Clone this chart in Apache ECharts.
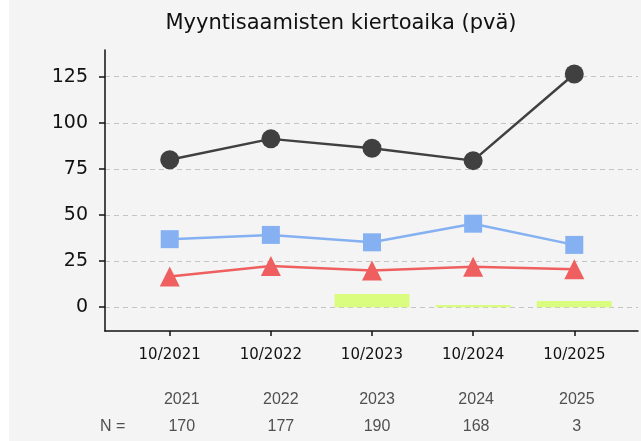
<!DOCTYPE html>
<html>
<head>
<meta charset="utf-8">
<script src="https://cdn.jsdelivr.net/npm/echarts@6/dist/echarts.min.js"></script>
<style>
  html, body { margin: 0; padding: 0; background: #fff; }
  #chart { position: absolute; left: 9px; top: 0; width: 632px; height: 441px; background: #f4f4f4; }
</style>
</head>
<body>
<div id="chart"></div>
<script>
// data
var periods = ['10/2021', '10/2022', '10/2023', '10/2024', '10/2025'];
var years = ['2021', '2022', '2023', '2024', '2025'];
var counts = [170, 177, 190, 168, 3];
var darkLine = [80, 91.3, 86.2, 79.5, 126.5];
var blueLine = [36.9, 39.2, 35.2, 45.3, 33.8];
var redLine = [16.6, 22.4, 19.9, 22.0, 20.6];
var greenBars = [null, null, 7.2, 1.2, 3.4];
var yTicks = [0, 25, 50, 75, 100, 125];

var xIdx = [0, 1, 2, 3, 4];
var tableShift = [12, 10, 5, 3, 2.5];

function pairs(arr) {
    var out = [];
    for (var i = 0; i < arr.length; i++) {
        if (arr[i] != null) out.push([i, arr[i]]);
    }
    return out;
}

var chart = echarts.init(document.getElementById('chart'));

var option = {
    backgroundColor: '#f4f4f4',
    animation: false,
    title: {
        text: 'Myyntisaamisten kiertoaika (pvä)',
        left: 327,
        top: 8,
        textAlign: 'center',
        textStyle: { fontFamily: 'DejaVu Sans', fontSize: 21, fontWeight: 'normal', color: '#111' }
    },
    grid: { left: 96, right: 3, top: 50, bottom: 110, containLabel: false },
    xAxis: {
        type: 'value',
        min: -0.64,
        max: 4.63,
        splitLine: { show: false },
        axisLine: { show: true, onZero: false, lineStyle: { color: '#111', width: 1.5 } },
        axisTick: { show: true, customValues: xIdx, length: 5, lineStyle: { color: '#111', width: 1.5 } },
        axisLabel: {
            customValues: xIdx,
            margin: 17,
            fontFamily: 'DejaVu Sans',
            fontSize: 15,
            color: '#111',
            formatter: function (v) { return periods[Math.round(v)]; }
        }
    },
    yAxis: {
        type: 'value',
        min: -12.9,
        max: 139.5,
        axisLine: { show: true, onZero: false, lineStyle: { color: '#111', width: 1.5 } },
        axisTick: { show: true, customValues: yTicks, length: 6, lineStyle: { color: '#111', width: 1.5 } },
        axisLabel: {
            customValues: yTicks,
            margin: 17,
            fontFamily: 'DejaVu Sans',
            fontSize: 19,
            color: '#111'
        },
        splitLine: { show: true, lineStyle: { color: '#c4c4c4', type: [5, 4], width: 1 } }
    },
    series: [
        {
            type: 'bar',
            data: pairs(greenBars),
            barWidth: 75,
            itemStyle: { color: '#dafd80' }
        },
        {
            type: 'line',
            data: pairs(redLine),
            symbol: 'triangle',
            symbolSize: 20,
            lineStyle: { color: '#ef5f5f', width: 2.5 },
            itemStyle: { color: '#ef5f5f' }
        },
        {
            type: 'line',
            data: pairs(blueLine),
            symbol: 'rect',
            symbolSize: 18,
            lineStyle: { color: '#85b1f2', width: 2.5 },
            itemStyle: { color: '#85b1f2' }
        },
        {
            type: 'line',
            data: pairs(darkLine),
            symbol: 'circle',
            symbolSize: 19,
            lineStyle: { color: '#404040', width: 2.5 },
            itemStyle: { color: '#404040' }
        }
    ]
};
chart.setOption(option);

// year / N table under the axis
var tableFont = { fontFamily: 'Liberation Sans', fontSize: 16, fill: '#505050' };
var graphics = [{
    type: 'text',
    x: 91,
    y: 427,
    style: Object.assign({ text: 'N =', verticalAlign: 'middle' }, tableFont)
}];
for (var i = 0; i < years.length; i++) {
    var px = chart.convertToPixel({ xAxisIndex: 0 }, i) + tableShift[i];
    graphics.push({
        type: 'text', x: px, y: 400,
        style: Object.assign({ text: years[i], align: 'center', verticalAlign: 'middle' }, tableFont)
    });
    graphics.push({
        type: 'text', x: px, y: 427,
        style: Object.assign({ text: String(counts[i]), align: 'center', verticalAlign: 'middle' }, tableFont)
    });
}
chart.setOption({ graphic: graphics });
</script>
</body>
</html>
